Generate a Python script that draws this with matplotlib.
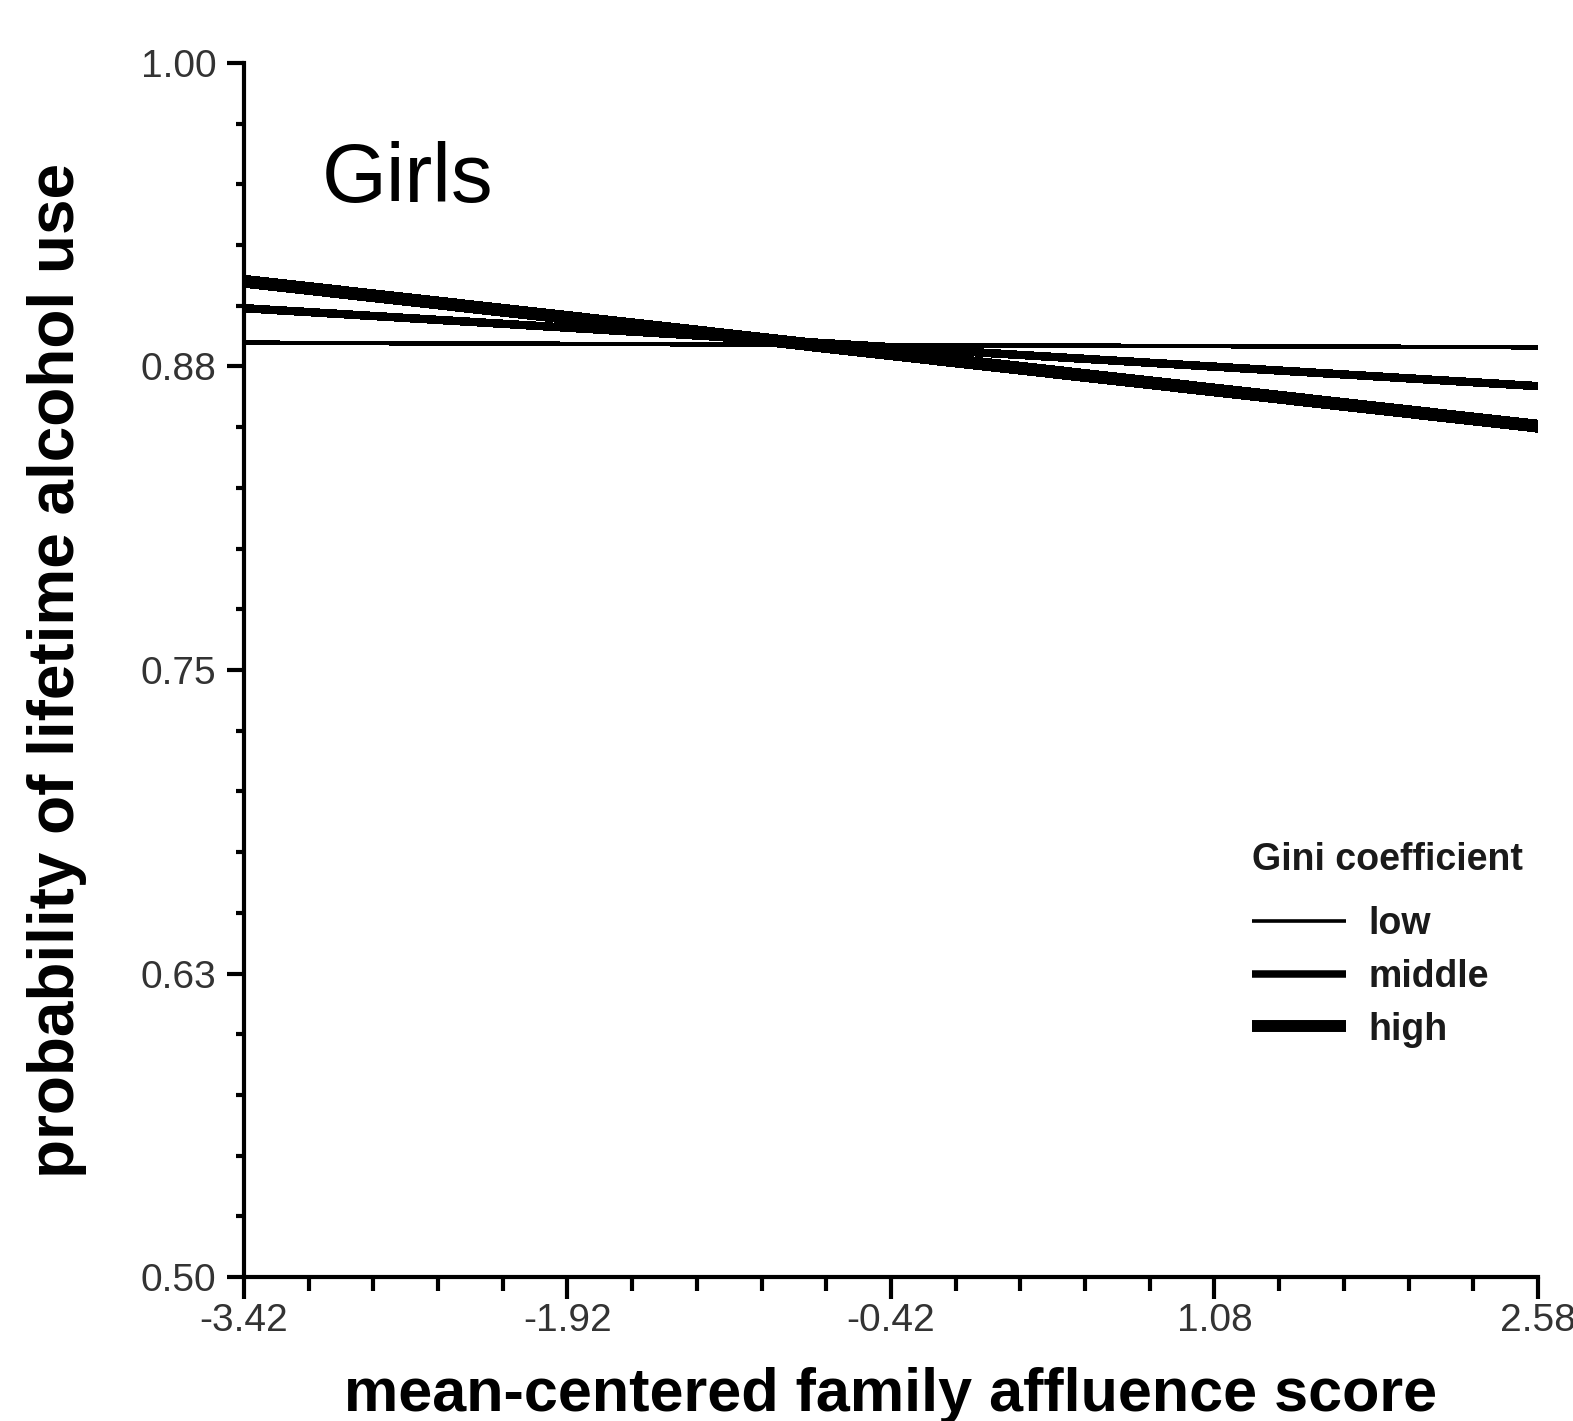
import matplotlib
matplotlib.use("Agg")
import matplotlib.pyplot as plt
from matplotlib.ticker import FixedLocator, FixedFormatter

# ---- data ----
fas_x = [-3.42, 2.58]
gini_low = [0.8848, 0.8829]
gini_middle = [0.8990, 0.8669]
gini_high = [0.9101, 0.8504]
series_labels = ["low", "middle", "high"]

x_major = [-3.42, -1.92, -0.42, 1.08, 2.58]
x_major_labels = ["-3.42", "-1.92", "-0.42", "1.08", "2.58"]
y_major = [0.50, 0.625, 0.75, 0.875, 1.00]
y_major_labels = ["0.50", "0.63", "0.75", "0.88", "1.00"]

plt.rcParams['font.family'] = ['Liberation Sans', 'DejaVu Sans']

fig = plt.figure(figsize=(15.73, 14.21), dpi=100)
ax = fig.add_axes([0.1551, 0.1013, 0.9777 - 0.1551, 0.9557 - 0.1013])

l1, = ax.plot(fas_x, gini_low, color='black', lw=2.6, solid_capstyle='butt', antialiased=False)
l2, = ax.plot(fas_x, gini_middle, color='black', lw=5.4, solid_capstyle='butt', antialiased=False)
l3, = ax.plot(fas_x, gini_high, color='black', lw=8.6, solid_capstyle='butt', antialiased=False)

ax.set_xlim(-3.42, 2.58)
ax.set_ylim(0.5, 1.0)

for s in ['top', 'right']:
    ax.spines[s].set_visible(False)
for s in ['left', 'bottom']:
    ax.spines[s].set_linewidth(3)

ax.xaxis.set_major_locator(FixedLocator(x_major))
ax.xaxis.set_major_formatter(FixedFormatter(x_major_labels))
ax.xaxis.set_minor_locator(FixedLocator([x_major[0] + 0.3 * i for i in range(21)]))
ax.yaxis.set_major_locator(FixedLocator(y_major))
ax.yaxis.set_major_formatter(FixedFormatter(y_major_labels))
ax.yaxis.set_minor_locator(FixedLocator([0.5 + 0.025 * i for i in range(21)]))

ax.tick_params(axis='x', which='major', direction='out', length=16, width=3,
               pad=3, labelsize=28, labelcolor='#333333')
ax.tick_params(axis='x', which='minor', direction='out', length=10, width=3)
ax.tick_params(axis='y', which='major', direction='out', length=12, width=3,
               pad=8, labelsize=28, labelcolor='#333333')
ax.tick_params(axis='y', which='minor', direction='out', length=6, width=3)

ax.set_ylabel("probability of lifetime alcohol use", fontsize=46, fontweight='bold')
ax.yaxis.set_label_coords(-0.121, 0.5)
ax.set_xlabel("mean-centered family affluence score", fontsize=44, fontweight='bold')
ax.xaxis.set_label_coords(0.5, -0.074)

ax.text(0.060, 0.8855, "Girls", transform=ax.transAxes, fontsize=60,
        ha='left', va='baseline')

leg = ax.legend([l1, l2, l3], series_labels, title="Gini coefficient",
                loc='upper left', bbox_to_anchor=(0.779, 0.3583),
                frameon=False, fontsize=27, handlelength=2.5,
                handletextpad=0.6, labelspacing=0.45, borderpad=0,
                borderaxespad=0, alignment='left',
                title_fontproperties={'size': 27, 'weight': 'bold'})
leg._legend_box.sep = 20
for t in leg.get_texts():
    t.set_fontweight('bold')
    t.set_color('#1a1a1a')
leg.get_title().set_color('#1a1a1a')

fig.savefig("out.png", dpi=100, facecolor='white')
